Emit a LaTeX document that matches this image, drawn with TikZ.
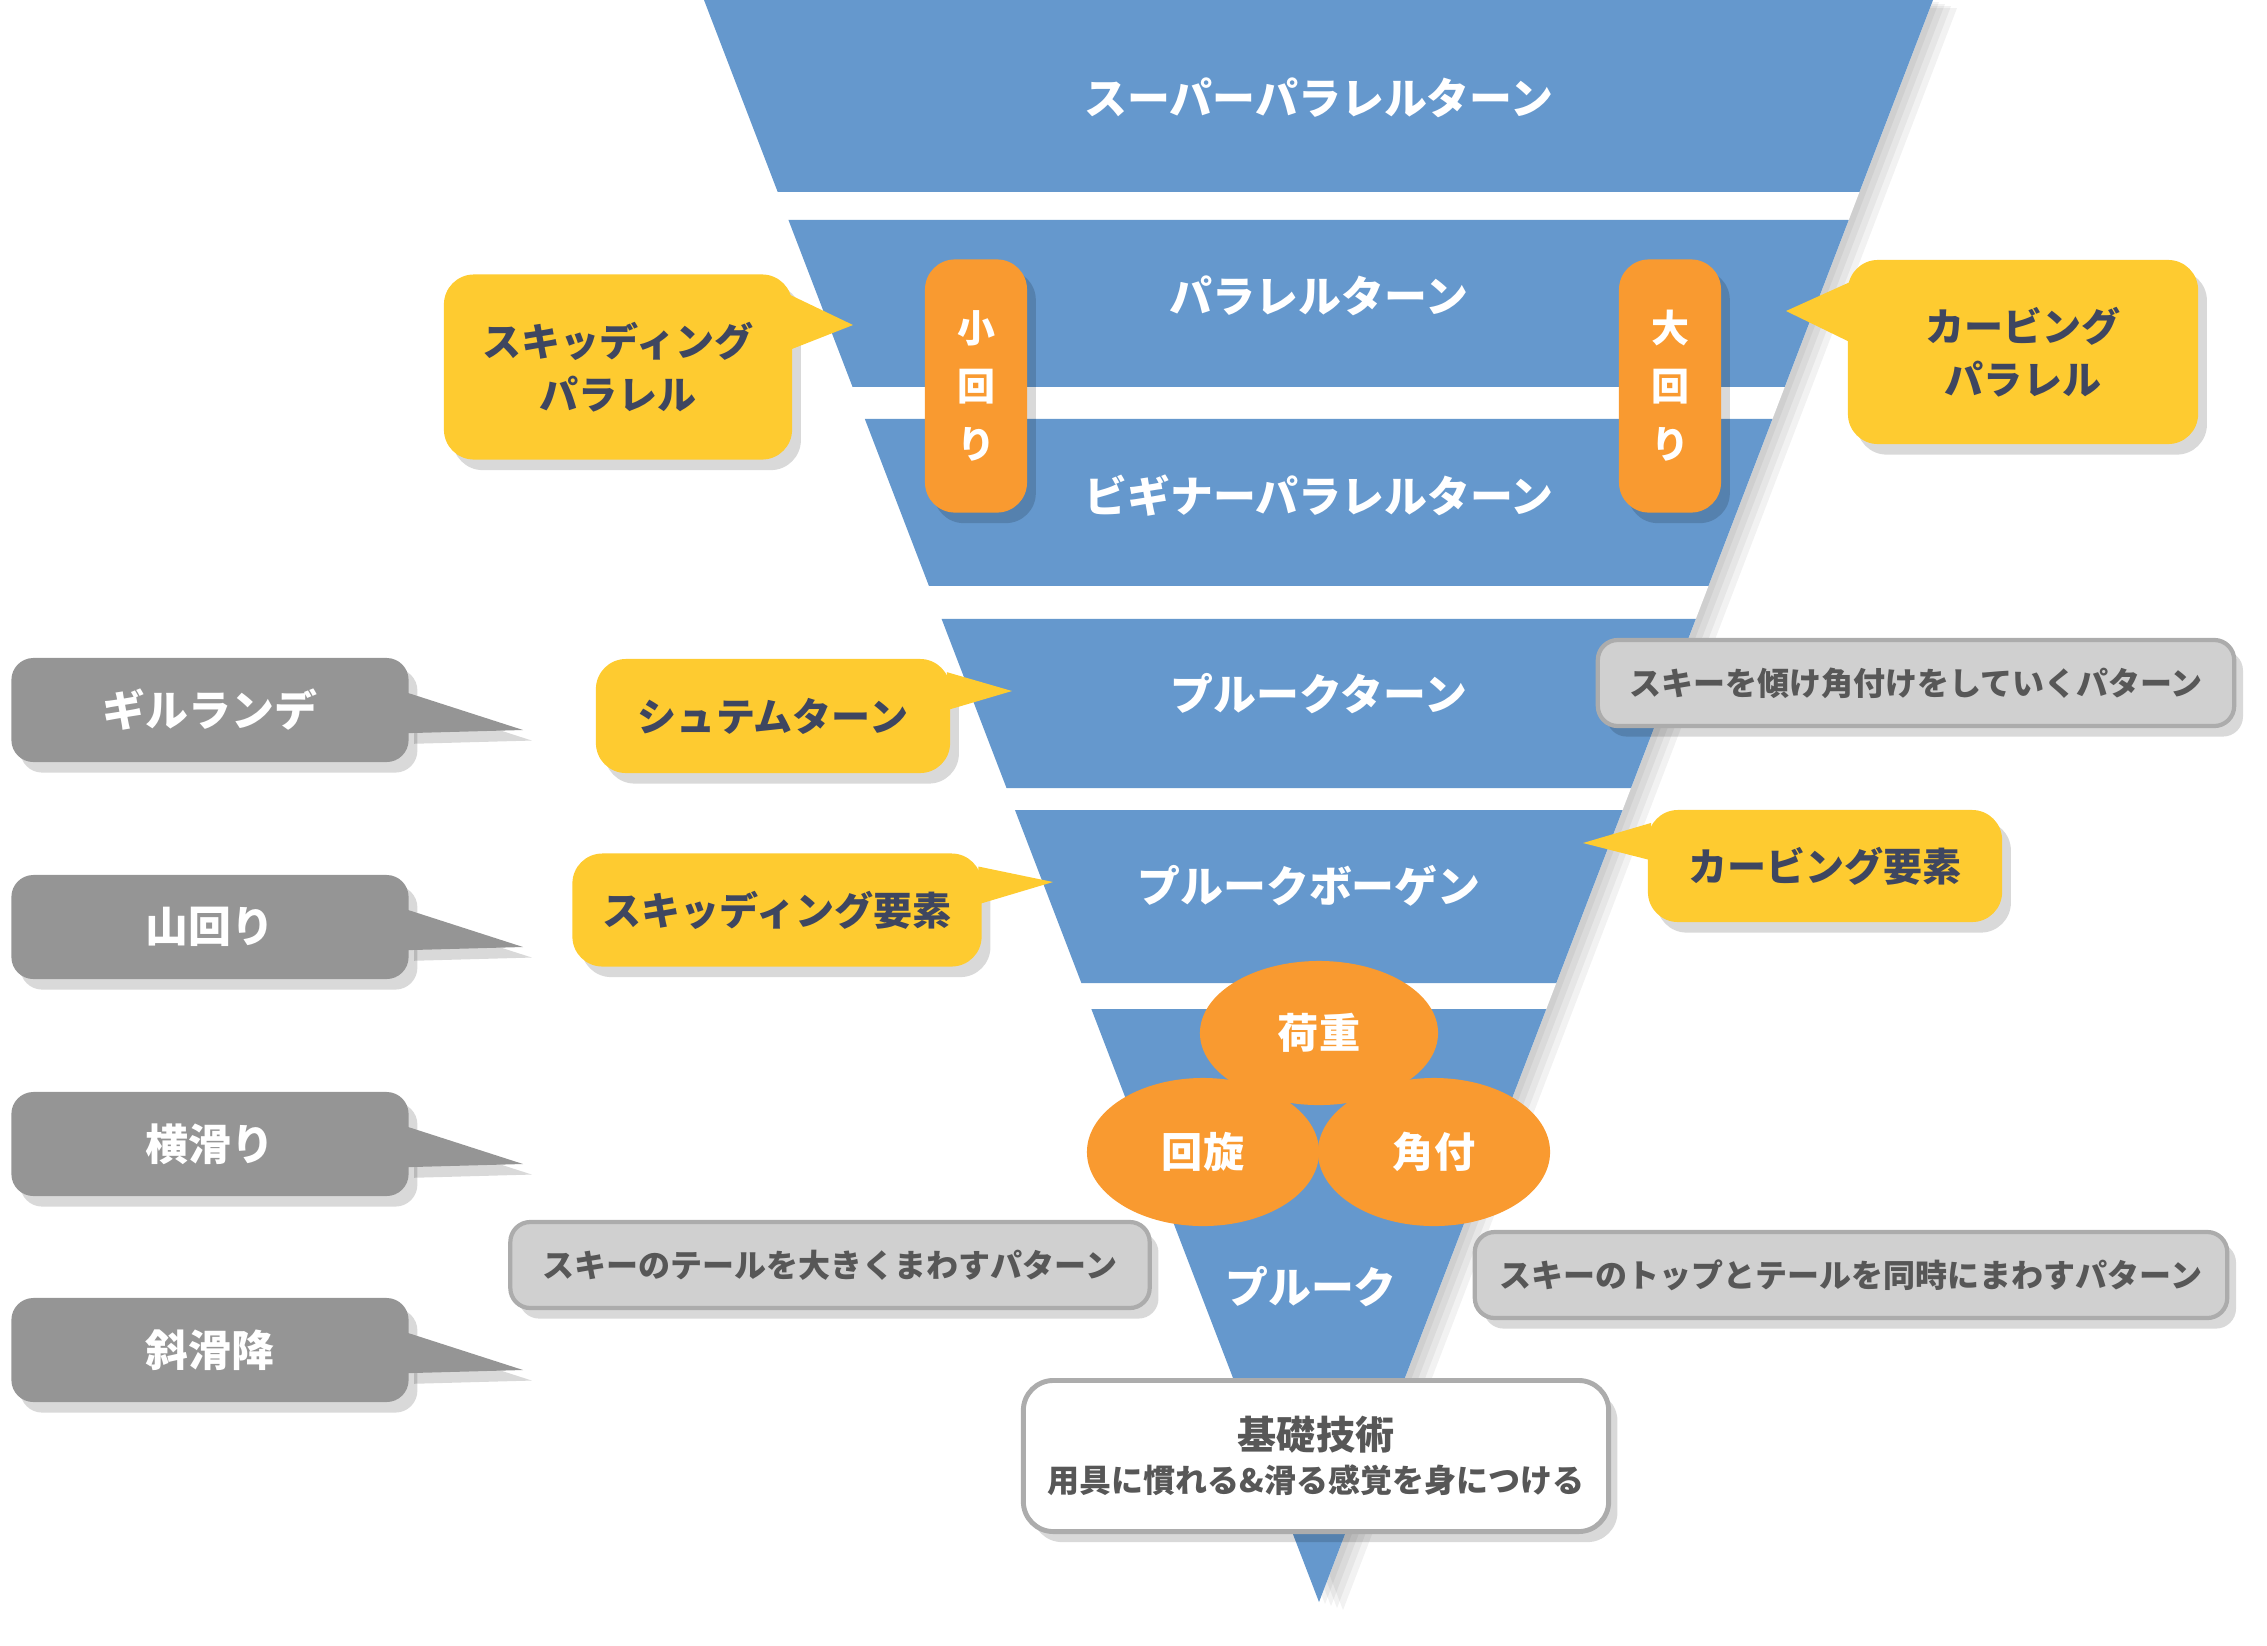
\documentclass[tikz,border=0pt]{standalone}
\usepackage{fontspec}
\setmainfont{Noto Sans CJK JP}
\usetikzlibrary{positioning, shapes.geometric, calc, shadows}
\definecolor{skiblue}{HTML}{6598CD}
\definecolor{skiyellow}{HTML}{FECB30}
\definecolor{skiorange}{HTML}{F99A30}
\definecolor{skigray}{HTML}{959595}
\definecolor{skilight}{HTML}{D0D0D0}
\definecolor{skilightline}{HTML}{ACACAC}
\definecolor{skiink}{HTML}{3E4660}
\definecolor{skitext}{HTML}{575757}

\tikzset{
  shadowed/.style={drop shadow={shadow xshift=2.5pt, shadow yshift=-3pt, fill=black, opacity=0.15}},
  bandlabel/.style={text=white, font=\bfseries\fontsize{12.2pt}{14pt}\selectfont},
  graybox/.style={fill=skigray, rounded corners=0.22cm, text=white, shadowed,
    minimum width=3.97cm, minimum height=1.04cm, font=\bfseries\fontsize{12.2pt}{14pt}\selectfont},
  yellowbox/.style={fill=skiyellow, rounded corners=0.3cm, text=skiink, align=center, shadowed,
    font=\bfseries\fontsize{11.1pt}{15pt}\selectfont},
  pill/.style={fill=skiorange, rounded corners=0.3cm, text=white, align=center, shadowed,
    minimum width=1.02cm, minimum height=2.53cm, inner sep=0pt,
    font=\bfseries\fontsize{10.8pt}{16.5pt}\selectfont},
  blob/.style={ellipse, fill=skiorange, text=white, inner sep=0pt,
    font=\bfseries\fontsize{11.7pt}{14pt}\selectfont},
  descbox/.style={fill=skilight, draw=skilightline, line width=1.2pt, rounded corners=0.2cm,
    text=skitext, shadowed, minimum height=0.86cm, font=\bfseries\fontsize{9.1pt}{12pt}\selectfont}
}

\begin{document}
\begin{tikzpicture}[x=0.01cm, y=-0.01cm]
    \useasboundingbox (0,0) rectangle (2267,1645);
    % inverted triangle
    \coordinate (tl) at (704,0);
    \coordinate (tr) at (1933,0);
    \coordinate (ap) at (1319,1602);
    \foreach \s in {6,12,18,24}
      \fill[black, opacity=0.05] ($(tl)+(\s,\s/3)$) -- ($(tr)+(\s,\s/3)$) -- ($(ap)+(\s,\s/3)$) -- cycle;
    \fill[white] (tl) -- (tr) -- (ap) -- cycle;
    \foreach \a/\b in {0/192, 220/387, 419/586, 619/788, 810/983, 1009/1602}
      \fill[skiblue] ($(tl)!{\a/1602}!(ap)$) -- ($(tr)!{\a/1602}!(ap)$)
        -- ($(tr)!{\b/1602}!(ap)$) -- ($(tl)!{\b/1602}!(ap)$) -- cycle;

    \node[bandlabel] (spt) at (1319,98) {スーパーパラレルターン};
    \node[bandlabel] (pt) at (1319,296) {パラレルターン};
    \node[bandlabel] (bpt) at (1319,496) {ビギナーパラレルターン};
    \node[bandlabel] (plt) at (1319,694) {プルークターン};
    \node[bandlabel] (plb) at (1309,886) {プルークボーゲン};
    \node[bandlabel] (pl) at (1311,1287) {プルーク};

    % turn size pills
    \node[pill] (komawari) at (976,386) {小\\回\\り};
    \node[pill] (oomawari) at (1670,386) {大\\回\\り};

    % three elements
    \node[blob, minimum width=2.38cm, minimum height=1.44cm] (kaju) at (1319,1033) {荷重};
    \node[blob, minimum width=2.32cm, minimum height=1.48cm] (kaisen) at (1203,1152) {回旋};
    \node[blob, minimum width=2.32cm, minimum height=1.48cm] (kakuzuke) at (1434,1152) {角付};

    % yellow callouts
    \node[yellowbox, minimum width=3.48cm, minimum height=1.85cm] (skpara) at (618,367) {スキッディング\\パラレル};
    \coordinate (skparatip) at (853,325);
    \fill[skiyellow] ($(skpara.north east)!0.11!(skpara.south east)+(-4,0)$) -- (skparatip)
      -- ($(skpara.north east)!0.41!(skpara.south east)+(-4,0)$) -- cycle;

    \node[yellowbox, minimum width=3.50cm, minimum height=1.84cm] (cvpara) at (2023,352) {カービング\\パラレル};
    \coordinate (cvparatip) at (1786,311);
    \fill[skiyellow] ($(cvpara.north west)!0.12!(cvpara.south west)+(4,0)$) -- (cvparatip)
      -- ($(cvpara.north west)!0.45!(cvpara.south west)+(4,0)$) -- cycle;

    \node[yellowbox, minimum width=3.54cm, minimum height=1.14cm] (stem) at (773,716) {シュテムターン};
    \coordinate (stemtip) at (1012,691);
    \fill[skiyellow] ($(stem.north east)!0.12!(stem.south east)+(-4,0)$) -- (stemtip)
      -- ($(stem.north east)!0.45!(stem.south east)+(-4,0)$) -- cycle;

    \node[yellowbox, minimum width=4.09cm, minimum height=1.13cm] (skyoso) at (777,910) {スキッディング要素};
    \coordinate (skyosotip) at (1053,882);
    \fill[skiyellow] ($(skyoso.north east)!0.12!(skyoso.south east)+(-4,0)$) -- (skyosotip)
      -- ($(skyoso.north east)!0.45!(skyoso.south east)+(-4,0)$) -- cycle;

    \node[yellowbox, minimum width=3.54cm, minimum height=1.12cm] (cvyoso) at (1825,866) {カービング要素};
    \coordinate (cvyosotip) at (1583,843);
    \fill[skiyellow] ($(cvyoso.north west)!0.12!(cvyoso.south west)+(4,0)$) -- (cvyosotip)
      -- ($(cvyoso.north west)!0.45!(cvyoso.south west)+(4,0)$) -- cycle;

    % gray callouts on the left
    \foreach \n/\t/\y in {gl1/ギルランデ/710, gl2/山回り/927, gl3/横滑り/1144, gl4/斜滑降/1350} {
      \node[graybox] (\n) at (210,\y) {\t};
      \coordinate (\n tip) at (523,\y+20);
      \fill[skigray, shadowed] ($(\n.north east)!0.33!(\n.south east)+(-4,0)$) -- (\n tip)
        -- ($(\n.north east)!0.72!(\n.south east)+(-4,0)$) -- cycle;
    }

    % pattern notes
    \node[descbox, minimum width=6.36cm] (katamuke) at (1916,683) {スキーを傾け角付けをしていくパターン};
    \node[descbox, minimum width=6.39cm] (tail) at (830,1265) {スキーのテールを大きくまわすパターン};
    \node[descbox, minimum width=7.52cm] (topntail) at (1851,1275) {スキーのトップとテールを同時にまわすパターン};

    % basics
    \node[fill=white, draw=skilightline, line width=1.4pt, rounded corners=0.3cm, shadowed,
          minimum width=5.85cm, minimum height=1.51cm, align=center, text=skitext] (kiso) at (1316,1456)
          {\bfseries\fontsize{11.1pt}{14pt}\selectfont 基礎技術\\
           \bfseries\fontsize{9.1pt}{12pt}\selectfont 用具に慣れる\&滑る感覚を身につける};
  \end{tikzpicture}
\end{document}
